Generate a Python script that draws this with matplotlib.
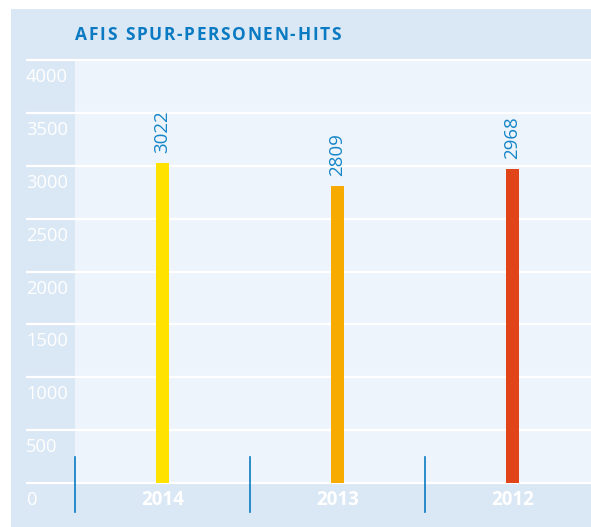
import matplotlib
matplotlib.use("Agg")
import matplotlib.pyplot as plt
from matplotlib.patches import Rectangle

years = ["2014", "2013", "2012"]
hits = [3022, 2809, 2968]
bar_colors = ["#ffe200", "#f7ab00", "#e04418"]
yticks = [0, 500, 1000, 1500, 2000, 2500, 3000, 3500, 4000]
title = "AFIS SPUR-PERSONEN-HITS"

W, H = 591, 527
DPI = 100
BG_DARK = "#dae7f4"
BG_LIGHT = "#eef4fb"
BLUE = "#0a7bc2"
VAL_BLUE = "#1686c8"

plt.rcParams['font.family'] = ['Open Sans', 'DejaVu Sans']

fig = plt.figure(figsize=(W / DPI, H / DPI), dpi=DPI)
fig.patch.set_facecolor("white")
fig.patches.append(Rectangle((11 / W, 0), 1 - 11 / W, 1 - 9 / H,
                             transform=fig.transFigure, facecolor=BG_DARK,
                             edgecolor="none", zorder=-10))

ax_l, ax_r, ax_t, ax_b = 75, 591, 60, 483
ax = fig.add_axes([ax_l / W, (H - ax_b) / H, (ax_r - ax_l) / W, (ax_b - ax_t) / H])
ax.set_zorder(1)
ax.set_facecolor(BG_LIGHT)
axw = ax_r - ax_l
axh = ax_b - ax_t
step = 175.0
ax.set_xlim(-0.5, -0.5 + axw / step)
ax.set_ylim(0, 4000)
for s in ax.spines.values():
    s.set_visible(False)
ax.set_xticks([])
ax.set_yticks([])

x = list(range(len(years)))
bar_w = 13 / step
ax.bar(x, hits, width=bar_w, color=bar_colors, zorder=3)

ytr = ax.get_yaxis_transform()
x_left = (26 - ax_l) / axw
for v in yticks:
    ax.plot([x_left, 1], [v, v], color="white", lw=1.6, transform=ytr,
            clip_on=False, zorder=2, solid_capstyle="butt")
    ax.annotate(str(v), xy=(x_left, v), xycoords=ytr, xytext=(0, -17),
                textcoords="offset pixels", ha="left", va="center",
                color="white", fontsize=13.2, annotation_clip=False)

xtr = ax.get_xaxis_transform()
for i in range(len(years) + 1):
    sx = i - 0.5
    ax.plot([sx, sx], [26 / axh, -29 / axh], color=BLUE, lw=1.2,
            transform=xtr, clip_on=False, zorder=4)

for xi, yr in zip(x, years):
    ax.annotate(yr, xy=(xi, 0), xycoords=xtr, xytext=(0, -17),
                textcoords="offset pixels", ha="center", va="center",
                color="white", fontsize=13.5, fontweight="bold",
                annotation_clip=False)

for xi, v in zip(x, hits):
    ax.annotate(str(v), xy=(xi, v), xytext=(0, 10), textcoords="offset pixels",
                rotation=90, ha="center", va="bottom", color=VAL_BLUE,
                fontsize=13.5, zorder=5)

# Title with letter spacing, placed character by character
renderer = fig.canvas.get_renderer()
tkw = dict(color=BLUE, fontsize=12.5, fontweight="bold", va="center", ha="left")


def text_width(s):
    t = fig.text(0, 0, s + "|", **tkw)
    t2 = fig.text(0, 0, "|", **tkw)
    w = t.get_window_extent(renderer).width - t2.get_window_extent(renderer).width
    t.remove()
    t2.remove()
    return w


natural = text_width(title)
target = 266.0
track = (target - natural) / (len(title) - 1)
x0 = 75.0
for i, ch in enumerate(title):
    if ch == " ":
        continue
    px = x0 + text_width(title[:i]) + i * track
    fig.text(px / W, 1 - 35 / H, ch, **tkw)

fig.savefig("out.png", dpi=DPI)
